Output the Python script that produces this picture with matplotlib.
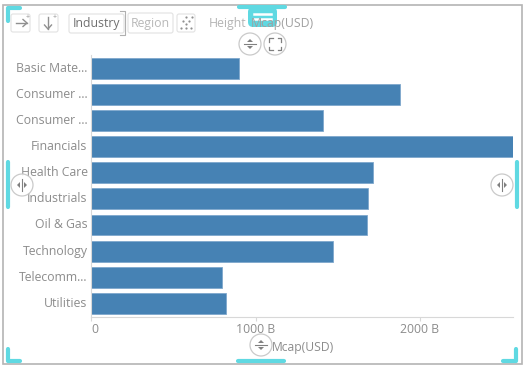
import matplotlib
matplotlib.use('Agg')
import matplotlib.pyplot as plt
import matplotlib.patches as patches

plt.rcParams['font.family'] = 'Open Sans'

W, H = 525, 367
GREY = '#8c8c8c'
TEAL = '#5fd9e2'
BAR = '#4682b4'

categories = ['Basic Mate...', 'Consumer ...', 'Consumer ...', 'Financials', 'Health Care',
              'Industrials', 'Oil & Gas', 'Technology', 'Telecomm...', 'Utilities']
mcap = [900, 1878, 1410, 2565, 1714, 1684, 1678, 1471, 796, 820]
tick_values = [0, 1000, 2000]
tick_labels = ['0', '1000 B', '2000 B']


def px_axes(fig, x0, y0, x1, y1):
    # y0/y1 are measured from the top of the image
    return fig.add_axes((x0 / W, 1 - y1 / H, (x1 - x0) / W, (y1 - y0) / H))


fig = plt.figure(figsize=(W / 100, H / 100), dpi=100)

# Chart
ax = px_axes(fig, 91, 55, 513, 316.5)
ax.barh(range(len(categories)), mcap, height=0.8, color=BAR, edgecolor='#7fa8cc', linewidth=0.6)
ax.set_xlim(0, 2565)
ax.set_ylim(len(categories) - 0.5, -0.5)
ax.set_yticks(range(len(categories)))
ax.set_yticklabels(categories, fontsize=8.8, color=GREY)
ax.set_xticks(tick_values)
ax.set_xticklabels(tick_labels, fontsize=8.8, color=GREY)
ax.get_xticklabels()[0].set_horizontalalignment('left')
ax.tick_params(axis='y', length=0, pad=2.5)
ax.tick_params(axis='x', length=3, color='#d8d8d8', pad=2)
for label in ax.get_yticklabels():
    label.set_verticalalignment('center')
for side in ('top', 'right'):
    ax.spines[side].set_visible(False)
for side in ('left', 'bottom'):
    ax.spines[side].set_color('#d8d8d8')

# Overlay in image pixels for the panel furniture
ov = fig.add_axes((0, 0, 1, 1), zorder=5)
ov.set_xlim(0, W)
ov.set_ylim(H, 0)
ov.axis('off')

ov.add_patch(patches.Rectangle((3, 4.5), 519, 359.5, fill=False, edgecolor='#b4b4b4', linewidth=1.2))


def teal_line(xs, ys, width=3):
    ov.plot(xs, ys, color=TEAL, linewidth=width, solid_capstyle='round', solid_joinstyle='round', zorder=6)


def button(x, y, w, h):
    ov.add_patch(patches.FancyBboxPatch((x, y), w, h, boxstyle='round,pad=0,rounding_size=2',
                                        facecolor='white', edgecolor='#e2e2e2', linewidth=0.8))


button(11, 14, 19, 18)
button(39, 14, 19, 18)
button(69, 14, 55, 19)
button(128, 13, 45, 20)
button(177, 14, 18, 18)
ov.plot([120, 125, 125, 120], [11, 11, 35, 35], color='#b0b0b0', linewidth=0.8)

ov.text(96, 23.5, 'Industry', fontsize=8.8, color='#707070', ha='center', va='center')
ov.text(150, 23.5, 'Region', fontsize=8.8, color='#b8b8b8', ha='center', va='center')
ov.text(209, 23.5, 'Height', fontsize=8.8, color='#b4b4b4', ha='left', va='center')
ov.text(272, 347, 'Mcap(USD)', fontsize=8.7, color=GREY, ha='left', va='center')

# Corner and edge handles
teal_line([7.5, 7.5, 20], [21, 8, 8])
teal_line([7.5, 7.5, 20], [349, 360.5, 360.5])
teal_line([503, 516, 516], [360.5, 360.5, 349])
teal_line([239, 285], [6.5, 6.5])
teal_line([238, 284], [360.5, 360.5])
teal_line([8, 8], [162, 207])
teal_line([517, 517], [162, 207])

ov.add_patch(patches.FancyBboxPatch((248, 7), 29, 20, boxstyle='round,pad=0,rounding_size=5',
                                    facecolor=TEAL, edgecolor='none', zorder=6))
ov.plot([254, 271], [13.5, 13.5], color='white', linewidth=1.8, zorder=7)
ov.plot([254, 271], [19, 19], color='white', linewidth=1.8, zorder=7)

# The field name shows through the handle
ov.text(251, 23.5, 'Mcap(USD)', fontsize=8.8, color='#a0a0a0', ha='left', va='center', zorder=7)

# Toolbar glyphs
ov.plot([16, 27], [23, 23], color='#909090', linewidth=1)
ov.plot([23, 27, 23], [19.5, 23, 26.5], color='#909090', linewidth=1)
ov.plot([48, 48], [17, 29], color='#909090', linewidth=1)
ov.plot([44.5, 48, 51.5], [25, 29, 25], color='#909090', linewidth=1)
ov.text(28, 17, '+', fontsize=5, color='#909090', ha='center', va='center')
ov.text(55, 17, '+', fontsize=5, color='#909090', ha='center', va='center')
for dx, dy in [(186, 17), (183, 21), (189, 21), (186, 24), (181, 28), (186, 28), (191, 28), (192, 17)]:
    ov.plot(dx, dy, 'o', color='#909090', markersize=1.6, markeredgewidth=0)


def round_button(x, y, r=11):
    ov.add_patch(patches.Circle((x, y), r, facecolor='white', edgecolor='#c4c4c4', linewidth=0.9, alpha=0.9, zorder=8))


def updown(x, y):
    round_button(x, y)
    ov.plot([x - 6, x + 6], [y, y], color='#808080', linewidth=0.8, zorder=9)
    ov.add_patch(patches.Polygon(((x - 3, y - 2), (x + 3, y - 2), (x, y - 5)), facecolor='#808080', zorder=9))
    ov.add_patch(patches.Polygon(((x - 3, y + 2), (x + 3, y + 2), (x, y + 5)), facecolor='#808080', zorder=9))


def leftright(x, y):
    round_button(x, y)
    ov.plot([x, x], [y - 6, y + 6], color='#808080', linewidth=0.8, zorder=9)
    ov.add_patch(patches.Polygon(((x - 2, y - 3), (x - 2, y + 3), (x - 5, y)), facecolor='#808080', zorder=9))
    ov.add_patch(patches.Polygon(((x + 2, y - 3), (x + 2, y + 3), (x + 5, y)), facecolor='#808080', zorder=9))


updown(250, 44)
updown(261, 345)
leftright(22, 185)
leftright(502, 185)

# Fit-to-view button
round_button(275, 44)
for cx, cy, sx, sy in [(269, 38, 1, 1), (281, 38, -1, 1), (269, 50, 1, -1), (281, 50, -1, -1)]:
    ov.plot([cx, cx, cx + 3.5 * sx], [cy + 3.5 * sy, cy, cy], color='#808080', linewidth=0.9, zorder=9)

fig.savefig('out.png', dpi=100)
